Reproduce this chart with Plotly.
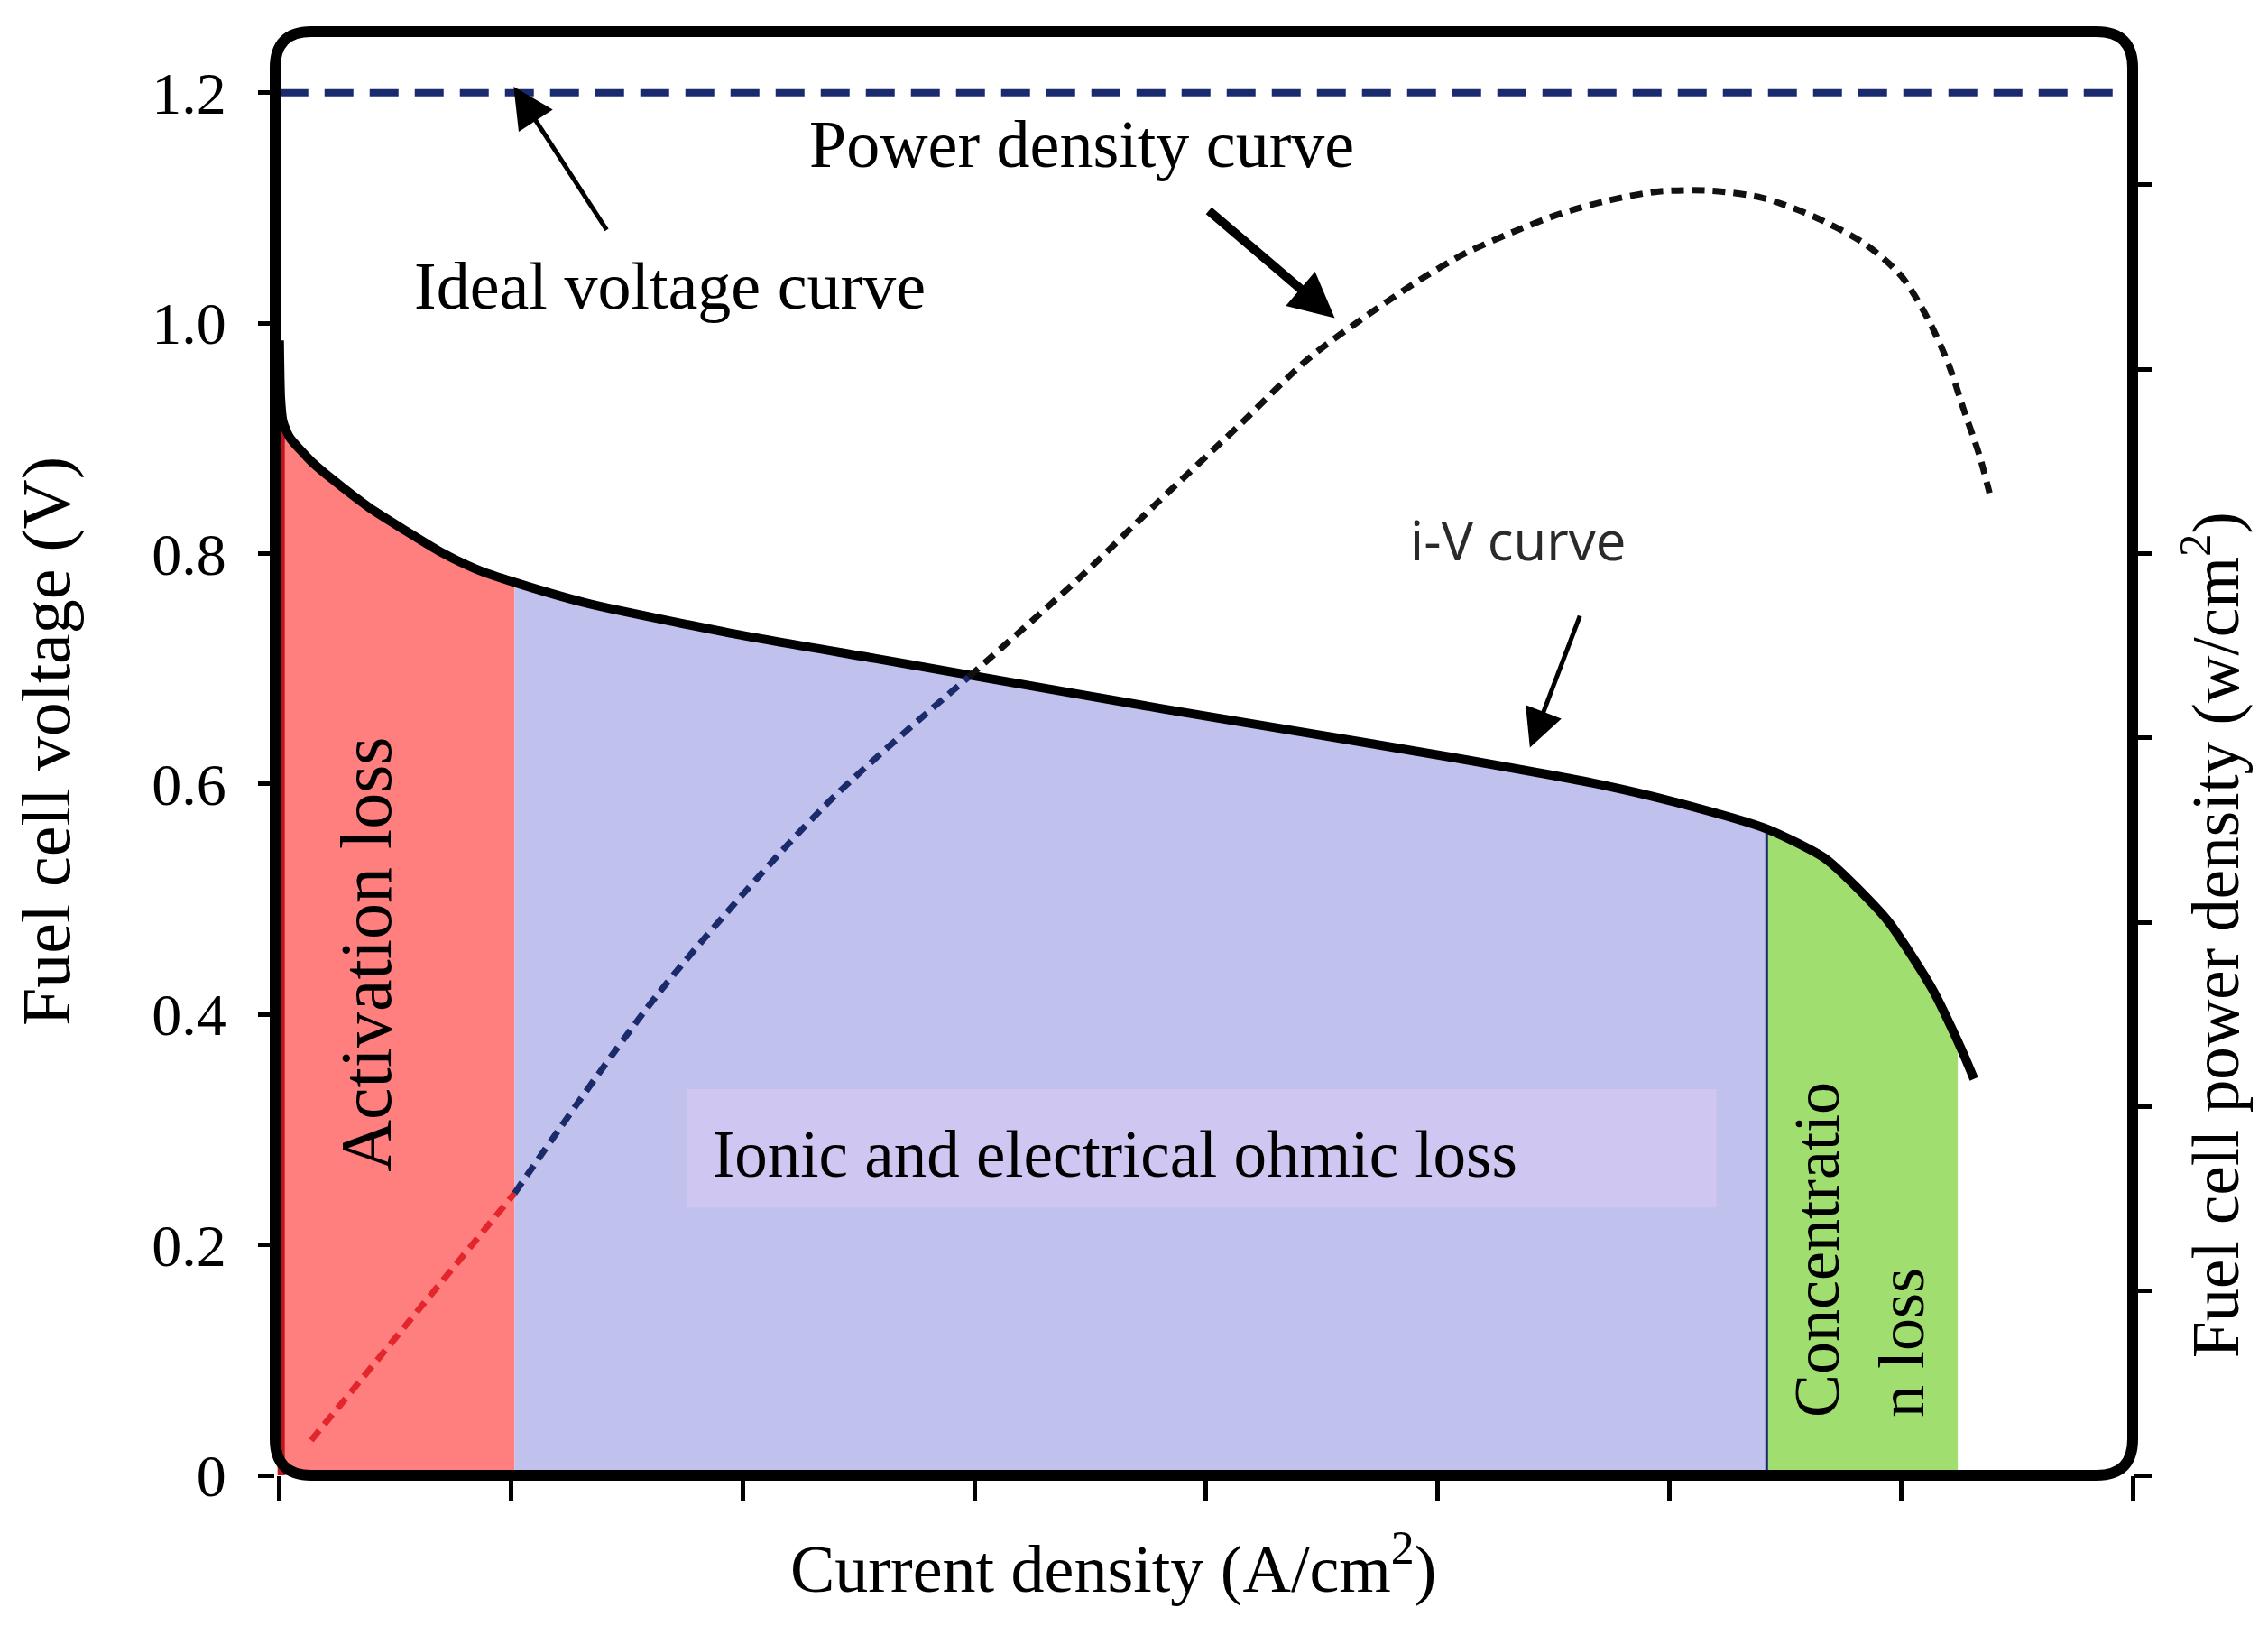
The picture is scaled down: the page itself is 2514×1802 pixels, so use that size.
import numpy as np
import plotly.graph_objects as go

# ---------------- data ----------------
# i-V polarisation curve (current density A/cm^2, cell voltage V)
iv_current = [0.0, 0.001, 0.003, 0.0087, 0.0275, 0.0462, 0.0774, 0.1086, 0.1398, 0.171,
              0.203, 0.265, 0.389, 0.514, 0.599, 0.764, 0.889, 1.013, 1.138, 1.206,
              1.284, 1.335, 1.388, 1.427, 1.452, 1.463]
iv_voltage = [0.985, 0.935, 0.915, 0.901, 0.880, 0.864, 0.840, 0.820, 0.801, 0.786,
              0.775, 0.757, 0.731, 0.709, 0.694, 0.665, 0.644, 0.623, 0.600, 0.584,
              0.561, 0.535, 0.482, 0.422, 0.370, 0.344]

# power density curve (current density A/cm^2, power density W/cm^2)
pd_current = [0.0274, 0.203, 0.328, 0.4706, 0.595, 0.6889, 0.7588, 0.8262, 0.8886,
              0.9448, 0.9897, 1.0246, 1.0696, 1.1058, 1.1457, 1.1906, 1.2356, 1.2805,
              1.3242, 1.3691, 1.4003, 1.4228, 1.4409, 1.4540, 1.4677, 1.4764]
pd_power = [0.019, 0.153, 0.262, 0.363, 0.433, 0.4857, 0.5281, 0.5681, 0.6058,
            0.6317, 0.6505, 0.6631, 0.6756, 0.6843, 0.6913, 0.6964, 0.6968, 0.6929,
            0.6829, 0.6678, 0.6505, 0.6278, 0.6029, 0.5783, 0.5532, 0.5328]

ideal_voltage = 1.2
ideal_current = [0.0, 1.6]

# loss-region boundaries (A/cm^2)
act_end = 0.203
ohm_end = 1.284
conc_end = 1.449
pd_cross = 0.595

x_ticks = [0, 0.2, 0.4, 0.6, 0.8, 1.0, 1.2, 1.4, 1.6]
y_ticks = [0, 0.2, 0.4, 0.6, 0.8, 1.0, 1.2]
y_tick_text = ["0", "0.2", "0.4", "0.6", "0.8", "1.0", "1.2"]
y2_ticks = [0, 0.1, 0.2, 0.3, 0.4, 0.5, 0.6, 0.7]

# ---------------- layout geometry ----------------
W, H = 2514, 1802
L, R, T, B = 297, 158, 27, 175
PW, PH = W - L - R, H - T - B
X_RANGE = [-0.0037, 1.6]
Y_RANGE = [0, 1.253]
Y2_RANGE = [0, 1.253 * 0.625]

SERIF = "Liberation Serif, Times New Roman, serif"
ivx = np.array(iv_current)
ivy = np.array(iv_voltage)


def region(x0, x1):
    m = (ivx >= x0) & (ivx <= x1)
    xs = [x0, x0] + list(ivx[m]) + [x1, x1]
    ys = [0, float(np.interp(x0, ivx, ivy))] + list(ivy[m]) + [float(np.interp(x1, ivx, ivy)), 0]
    return xs, ys


fig = go.Figure()

for (x0, x1, col) in [(0.0, act_end, "#FF7F7F"), (act_end, ohm_end, "#C0C1ED"),
                      (ohm_end, conc_end, "#A0DE70")]:
    xs, ys = region(x0, x1)
    fig.add_trace(go.Scatter(x=xs, y=ys, fill="toself", fillcolor=col, mode="lines",
                             line=dict(width=0), hoverinfo="skip"))

# dark strip along the left edge of the activation region
fig.add_trace(go.Scatter(x=[0.0015, 0.0015], y=[0, 0.91], mode="lines",
                         line=dict(color="#C0161B", width=8), hoverinfo="skip"))

# boundary line between ohmic and concentration regions
fig.add_trace(go.Scatter(x=[ohm_end, ohm_end], y=[0, float(np.interp(ohm_end, ivx, ivy))],
                         mode="lines", line=dict(color="#1B2A6B", width=3), hoverinfo="skip"))

# ideal voltage
fig.add_trace(go.Scatter(x=ideal_current, y=[ideal_voltage, ideal_voltage], mode="lines",
                         line=dict(color="#1A2A6E", width=8, dash="32px,18px")))

# power density curve, three colour segments
pdx = np.array(pd_current)
pdy = np.array(pd_power)
for (x0, x1, col) in [(0, act_end, "#E3262B"), (act_end, pd_cross, "#1B2A6B"),
                      (pd_cross, 2.0, "#111111")]:
    m = (pdx >= x0) & (pdx <= x1)
    fig.add_trace(go.Scatter(x=pdx[m], y=pdy[m], yaxis="y2", mode="lines",
                             line=dict(color=col, width=7, dash="14px,9px", shape="spline",
                                       smoothing=0.8)))

# i-V curve
fig.add_trace(go.Scatter(x=iv_current, y=iv_voltage, mode="lines",
                         line=dict(color="black", width=10, shape="spline", smoothing=0.6)))

# rounded frame
rx, ry = 40 / PW, 40 / PH
path = (f"M 0,{ry} L 0,{1-ry} Q 0,1 {rx},1 L {1-rx},1 Q 1,1 1,{1-ry} "
        f"L 1,{ry} Q 1,0 {1-rx},0 L {rx},0 Q 0,0 0,{ry} Z")
shapes = [
    dict(type="rect", xref="x", yref="y", x0=0.352, x1=1.2406, y0=0.2323, y1=0.3352,
         fillcolor="#CFC7F1", line=dict(width=0), layer="above"),
    dict(type="path", xref="paper", yref="paper", path=path,
         line=dict(color="black", width=12), layer="above"),
]

C = dict(xanchor="center", yanchor="middle", showarrow=False)
annotations = [
    dict(x=0.337, y=1.032, text="Ideal voltage curve",
         font=dict(family=SERIF, size=74, color="black"), **C),
    dict(x=0.6927, y=1.155, text="Power density curve",
         font=dict(family=SERIF, size=74, color="black"), **C),
    dict(x=1.0696, y=0.8123, text="i-V curve",
         font=dict(family="Open Sans, Noto Sans, sans-serif", size=60, color="#2A2A2A"), **C),
    dict(x=0.0749, y=0.452, text="Activation loss", textangle=-90,
         font=dict(family=SERIF, size=80, color="black"), **C),
    dict(x=0.7214, y=0.2787, text="Ionic and electrical ohmic loss",
         font=dict(family=SERIF, size=73, color="black"), **C),
    dict(x=1.3641, y=0.1959, text="Concentratio<br>n loss", textangle=-90,
         align="left", font=dict(family=SERIF, size=72, color="black"), **C),
    # arrows
    dict(x=0.2022, y=1.2053, ax=0.2833, ay=1.0797, axref="x", ayref="y", text="",
         showarrow=True, arrowhead=2, arrowsize=1.8, arrowwidth=5, arrowcolor="black"),
    dict(x=0.9111, y=1.0044, ax=0.8012, ay=1.0986, axref="x", ayref="y", text="",
         showarrow=True, arrowhead=2, arrowsize=1.0, arrowwidth=10, arrowcolor="black"),
    dict(x=1.0796, y=0.6315, ax=1.1232, ay=0.747, axref="x", ayref="y", text="",
         showarrow=True, arrowhead=2, arrowsize=1.7, arrowwidth=5, arrowcolor="black"),
    # axis titles
    dict(xref="paper", yref="paper", x=(44 - L) / PW, y=(H - B - 814) / PH,
         text="Fuel cell voltage (V)", textangle=-90,
         font=dict(family=SERIF, size=76, color="black"), **C),
    dict(xref="paper", yref="paper", x=(2442 - L) / PW, y=(H - B - 1028) / PH,
         text="Fuel cell power density (w/cm<sup>2</sup>)", textangle=-90,
         font=dict(family=SERIF, size=73, color="black"), **C),
    dict(xref="paper", yref="paper", x=(1226 - L) / PW, y=(H - B - 1726) / PH,
         text="Current density (A/cm<sup>2</sup>)",
         font=dict(family=SERIF, size=74, color="black"), **C),
]

fig.update_layout(
    width=W, height=H, margin=dict(l=L, r=R, t=T, b=B),
    paper_bgcolor="white", plot_bgcolor="white", showlegend=False,
    shapes=shapes, annotations=annotations,
    xaxis=dict(range=X_RANGE, tickvals=x_ticks, showticklabels=False, ticks="outside",
               ticklen=28, tickwidth=5, tickcolor="black", showgrid=False, zeroline=False,
               showline=False),
    yaxis=dict(range=Y_RANGE, tickvals=y_ticks, ticktext=y_tick_text, ticks="outside",
               ticklen=18, tickwidth=5, tickcolor="black", showgrid=False, zeroline=False,
               showline=False, ticklabelstandoff=22,
               tickfont=dict(family=SERIF, size=66, color="black")),
    yaxis2=dict(range=Y2_RANGE, tickvals=y2_ticks, overlaying="y", side="right",
                showticklabels=False, ticks="outside", ticklen=20, tickwidth=5,
                tickcolor="black", showgrid=False, zeroline=False, showline=False),
)

fig.write_html("out.html")
